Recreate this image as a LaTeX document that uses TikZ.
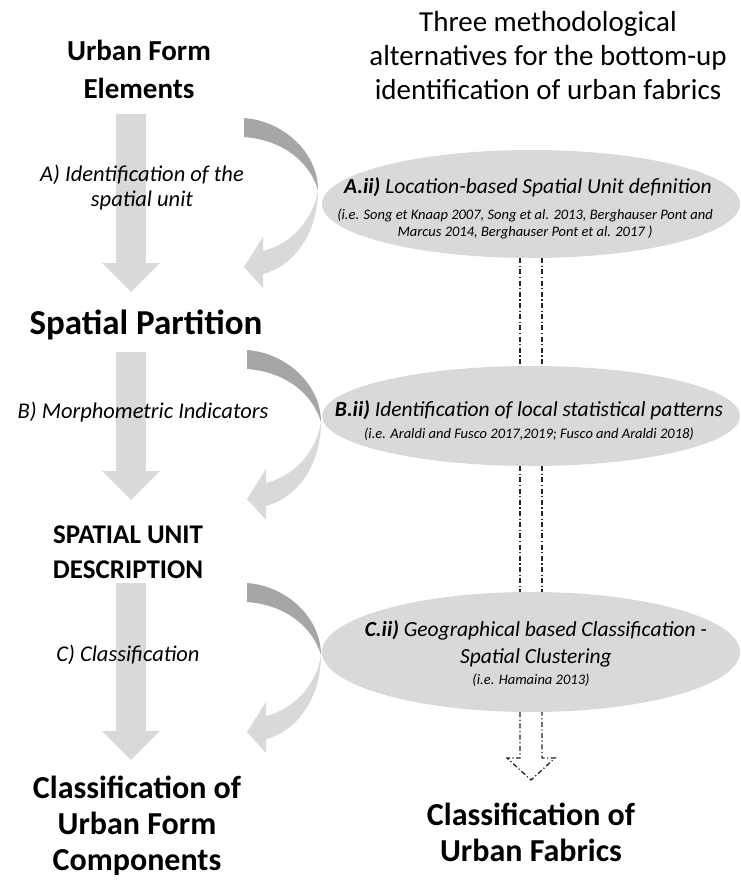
\documentclass[tikz,border=0pt]{standalone}
\usepackage{fontspec}
\setmainfont{Carlito}
\usetikzlibrary{arrows.meta,shapes.geometric,calc}
\definecolor{lightg}{HTML}{D9D9D9}
\definecolor{darkg}{HTML}{A6A6A6}
\definecolor{elfill}{HTML}{D9D9D9}
\begin{document}
\begin{tikzpicture}[x=1pt,y=-1pt,
  bigtitle/.style={font=\fontsize{29}{38}\selectfont\bfseries, align=center, inner sep=0pt},
  lowtitle/.style={font=\fontsize{32}{36}\selectfont\bfseries, align=center, inner sep=0pt},
  midtitle/.style={font=\fontsize{27}{35}\selectfont\bfseries, align=center, inner sep=0pt},
  righttitle/.style={font=\fontsize{29}{34}\selectfont, align=center, inner sep=0pt},
  steplabel/.style={font=\fontsize{22.5}{25}\selectfont\itshape, align=center, inner sep=0pt},
  elhead/.style={font=\fontsize{21.5}{27}\selectfont\itshape, align=center, inner sep=0pt},
  elcite/.style={font=\fontsize{14.5}{17}\selectfont\itshape, align=center, inner sep=0pt},
  alt/.style={ellipse, fill=elfill, draw=none, minimum width=418pt, inner sep=0pt},
  bigarrow/.style={draw=lightg, line width=30pt, -{Triangle[width=56pt,length=29pt]}},
  dd/.style={draw=black!85, line width=1.3pt, dash pattern=on 5pt off 2.5pt on 1.2pt off 2.5pt},
  bendarrow/.pic={
    \fill[darkg] (0,0) .. controls (40,3) and (74,35) .. (74,72)
      .. controls (66,45) and (40,22) .. (0,19) -- cycle;
    \fill[lightg] (74,72) .. controls (74,115) and (50,148) .. (19,156)
      -- (19,170) -- (0,149) -- (19,119) -- (19,133)
      .. controls (48,126) and (70,100) .. (74,72) -- cycle;
  }
]
\useasboundingbox (0,0) rectangle (740,881);

% left column titles
\node[bigtitle] (ufe) at (139,69) {Urban Form\\Elements};
\node[font=\fontsize{35}{38}\selectfont\bfseries, inner sep=0pt] (sp) at (146,325) {Spatial Partition};
\node[midtitle] (sud) at (128,552) {SPATIAL UNIT\\DESCRIPTION};
\node[lowtitle] (cufc) at (137,826) {Classification of\\Urban Form\\Components};

% left big arrows
\coordinate (a1s) at (131,114); \coordinate (a1e) at (131,292);
\coordinate (a2s) at (131,352); \coordinate (a2e) at (131,500);
\coordinate (a3s) at (131,583); \coordinate (a3e) at (131,760);
\draw[bigarrow] (a1s) -- (a1e);
\draw[bigarrow] (a2s) -- (a2e);
\draw[bigarrow] (a3s) -- (a3e);

% step labels
\node[steplabel] (la) at (142,188) {A) Identification of the\\spatial unit};
\node[steplabel] (lb) at (143,412) {B) Morphometric Indicators};
\node[steplabel] (lc) at (128,655) {C) Classification};

% curved arrows
\pic (ca1) at (244,118) {bendarrow};
\pic (ca2) at (247,350) {bendarrow};
\pic (ca3) at (247,583) {bendarrow};

% right title
\node[righttitle] (rt) at (548,56) {Three methodological\\alternatives for the bottom-up\\identification of urban fabrics};

% ellipses
\node[alt, minimum height=108pt] (A) at (531,204) {};
\node[alt, minimum height=100pt] (B) at (531,416) {};
\node[alt, minimum height=120pt] (C) at (531,652) {};

% dash-dot connectors
\coordinate (hl) at (520,758); \coordinate (hr) at (542,758);
\coordinate (tip) at (531,780);
\draw[dd] ([xshift=-11pt]A.south) -- ([xshift=-11pt]B.north);
\draw[dd] ([xshift=11pt]A.south) -- ([xshift=11pt]B.north);
\draw[dd] ([xshift=-11pt]B.south) -- ([xshift=-11pt]C.north);
\draw[dd] ([xshift=11pt]B.south) -- ([xshift=11pt]C.north);
\draw[dd] ([xshift=-11pt]C.south) -- (hl) -- ++(-13,0) -- (tip) -- ($(hr)+(13,0)$) -- (hr) -- ([xshift=11pt]C.south);

% ellipse texts
\node[elhead] (ha) at (528,187) {\textbf{A.ii)} Location-based Spatial Unit definition};
\node[elcite] (ca) at (525,224) {(i.e. Song et Knaap 2007, Song et al. 2013, Berghauser Pont and\\Marcus 2014, Berghauser Pont et al. 2017 )};
\node[elhead] (hb) at (529,410) {\textbf{B.ii)} Identification of local statistical patterns};
\node[elcite] (cb) at (529,434) {(i.e. Araldi and Fusco 2017,2019; Fusco and Araldi 2018)};
\node[elhead] (hc) at (536,644) {\textbf{C.ii)} Geographical based Classification -\\Spatial Clustering};
\node[elcite] (cc) at (531,680) {(i.e. Hamaina 2013)};

% right bottom title
\node[lowtitle] (cuf) at (531,832) {Classification of\\Urban Fabrics};
\end{tikzpicture}
\end{document}
